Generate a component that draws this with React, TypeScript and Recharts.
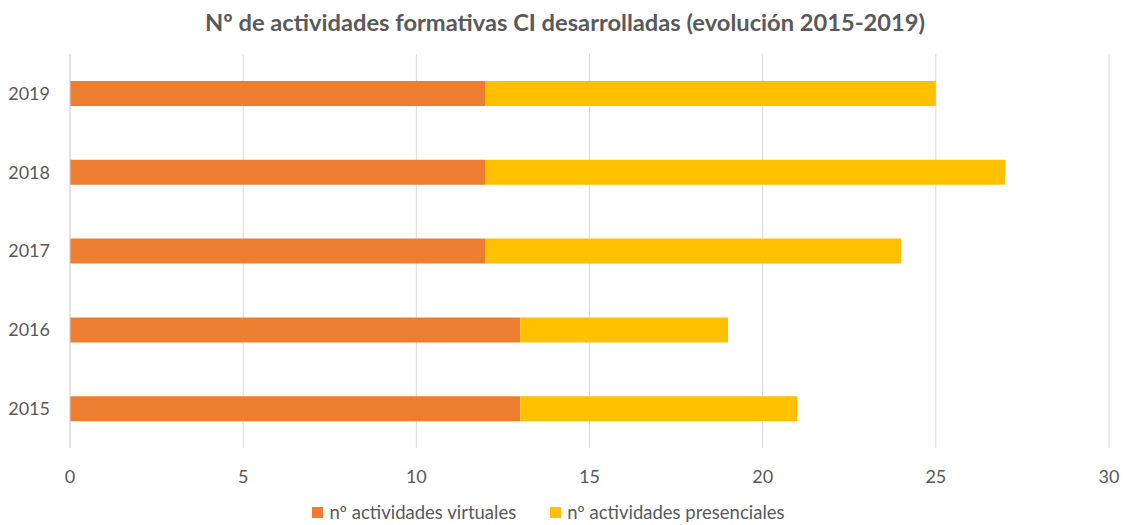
import { BarChart, Bar, XAxis, YAxis, CartesianGrid, Legend } from 'recharts';

const years = ['2015', '2016', '2017', '2018', '2019'];
const virtuales = [13, 13, 12, 12, 12];
const presenciales = [8, 6, 12, 15, 13];
const xTicks = [0, 5, 10, 15, 20, 25, 30];

const data = years.map((year, i) => ({
  year,
  virtuales: virtuales[i],
  presenciales: presenciales[i],
}));

const FONT = 'Lato, "Open Sans", sans-serif';
const TEXT = '#595959';

const seriesOrder = ['virtuales', 'presenciales'];

function LegendContent({ payload }: any) {
  const items = [...(payload || [])].sort(
    (a: any, b: any) => seriesOrder.indexOf(a.dataKey) - seriesOrder.indexOf(b.dataKey)
  );
  return (
    <div
      style={{
        display: 'flex',
        justifyContent: 'center',
        gap: 34,
        paddingRight: 12,
        fontSize: 18.5,
        fontFamily: FONT,
        color: TEXT,
      }}
    >
      {items.map((it: any) => (
        <div key={it.dataKey} style={{ display: 'flex', alignItems: 'center' }}>
          <span style={{ display: 'inline-block', width: 11, height: 11, background: it.color, marginRight: 6 }} />
          <span>{it.value}</span>
        </div>
      ))}
    </div>
  );
}

export default function App() {
  return (
    <div style={{ position: 'absolute', left: 0, top: 0, width: 1130, height: 525, background: '#fff', fontFamily: FONT }}>
      <div
        style={{
          position: 'absolute',
          left: 0,
          top: 8,
          width: 1130,
          textAlign: 'center',
          fontSize: 23.7,
          fontWeight: 700,
          color: TEXT,
        }}
      >
        Nº de actividades formativas CI desarrolladas (evolución 2015-2019)
      </div>
      <BarChart
        width={1130}
        height={525}
        data={data}
        layout="vertical"
        margin={{ top: 54, right: 21, bottom: 10, left: 0 }}
      >
        <CartesianGrid horizontal={false} stroke="#d9d9d9" />
        <XAxis
          type="number"
          domain={[0, 30]}
          ticks={xTicks}
          axisLine={false}
          tickLine={false}
          tickMargin={16}
          height={45}
          tick={{ fill: TEXT, fontSize: 18, fontFamily: FONT }}
        />
        <YAxis
          type="category"
          dataKey="year"
          reversed
          width={70}
          axisLine={{ stroke: '#d9d9d9' }}
          tickLine={false}
          tickMargin={14}
          tick={{ fill: TEXT, fontSize: 18, fontFamily: FONT }}
        />
        <Legend verticalAlign="bottom" content={<LegendContent />} wrapperStyle={{ top: 501 }} />
        <Bar dataKey="virtuales" name="nº actividades virtuales" stackId="a" fill="#ED7D31" barSize={25} isAnimationActive={false} />
        <Bar dataKey="presenciales" name="nº actividades presenciales" stackId="a" fill="#FFC000" barSize={25} isAnimationActive={false} />
      </BarChart>
    </div>
  );
}
